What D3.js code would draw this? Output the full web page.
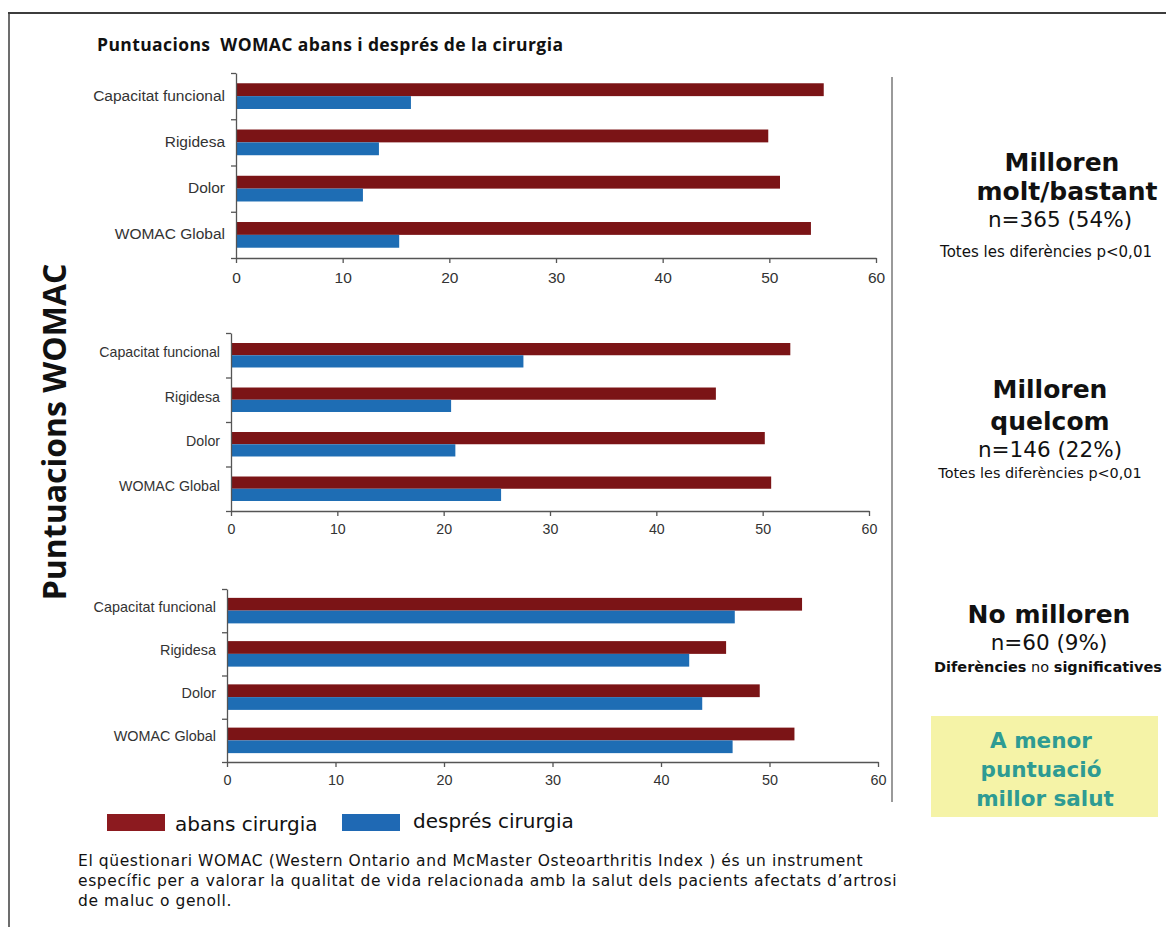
<!DOCTYPE html>
<html><head><meta charset="utf-8">
<script src="https://cdn.jsdelivr.net/npm/d3@7"></script>
<style>body{margin:0;background:#fff;} svg{display:block;} text{white-space:pre;}</style>
</head><body>
<svg id="c" width="1166" height="927"></svg>
<script>
const categories = ["Capacitat funcional", "Rigidesa", "Dolor", "WOMAC Global"];
const seriesNames = ["abans cirurgia", "després cirurgia"];
const abans1 = [55.1, 49.9, 51.0, 53.9];
const despres1 = [16.4, 13.4, 11.9, 15.3];
const abans2 = [52.6, 45.6, 50.2, 50.8];
const despres2 = [27.5, 20.7, 21.1, 25.4];
const abans3 = [53.0, 46.0, 49.1, 52.3];
const despres3 = [46.8, 42.6, 43.8, 46.6];
const xTicks = [0, 10, 20, 30, 40, 50, 60];
const title = "Puntuacions  WOMAC abans i després de la cirurgia";
const yTitle = "Puntuacions WOMAC";
const groupTitles = [["Milloren", "molt/bastant"], ["Milloren", "quelcom"], ["No milloren"]];
const groupN = ["n=365 (54%)", "n=146 (22%)", "n=60 (9%)"];
const noteLines = [
  "El qüestionari WOMAC (Western Ontario and McMaster Osteoarthritis Index ) és un instrument",
  "específic per a valorar la qualitat de vida relacionada amb la salut dels pacients afectats d’artrosi",
  "de maluc o genoll."
];
const boxLines = ["A menor", "puntuació", "millor salut"];

const RED = "#7b1416", BLUE = "#1e6db4";
const svg = d3.select("#c");

// frame
svg.append("line").attr("x1", 8).attr("x2", 1166).attr("y1", 13).attr("y2", 13).attr("stroke", "#3c3c3c").attr("stroke-width", 2);
svg.append("line").attr("x1", 9).attr("x2", 9).attr("y1", 12).attr("y2", 927).attr("stroke", "#3c3c3c").attr("stroke-width", 1.5);

svg.append("text").attr("x", 97).attr("y", 51).text(title)
  .attr("font-family", "Open Sans").attr("font-weight", "bold").attr("font-size", 17.5)
  .attr("letter-spacing", 0.4).attr("fill", "#111");

svg.append("text").attr("transform", "translate(66,432) rotate(-90)").attr("text-anchor", "middle")
  .text(yTitle).attr("font-family", "Open Sans").attr("font-weight", "bold").attr("font-size", 32).attr("fill", "#111");

const panels = [
  {a: abans1, d: despres1, x0: 236, x1: 876, y0: 73, y1: 258, pair: 0.556, fs: 15.5, pad: 9, lblDy: -1},
  {a: abans2, d: despres2, x0: 231, x1: 869, y0: 333, y1: 511, pair: 0.55, fs: 14.2, pad: 8, lblDy: -3},
  {a: abans3, d: despres3, x0: 227, x1: 878, y0: 589, y1: 762, pair: 0.59, fs: 14.4, pad: 8, lblDy: -4}
];

panels.forEach(p => {
  const x = d3.scaleLinear().domain([0, 60]).range([p.x0, p.x1]);
  const yb = d3.scaleBand().domain(categories).range([p.y0, p.y1]);
  const yl = d3.scaleLinear().domain([0, categories.length]).range([p.y0, p.y1]);
  const g = svg.append("g");
  const bw = yb.bandwidth();
  const h = bw * p.pair / 2;
  categories.forEach((c, i) => {
    const cy = yb(c) + bw / 2;
    g.append("rect").attr("x", x(0)).attr("y", cy - h).attr("width", x(p.a[i]) - x(0)).attr("height", h).attr("fill", RED);
    g.append("rect").attr("x", x(0)).attr("y", cy).attr("width", x(p.d[i]) - x(0)).attr("height", h).attr("fill", BLUE);
    g.append("text").attr("x", p.x0 - 11).attr("y", cy + p.lblDy).attr("dy", "0.35em").attr("text-anchor", "end")
      .text(c).attr("font-family", "Liberation Sans, Arial").attr("font-size", p.fs).attr("fill", "#333");
  });
  const ax = g.append("g").attr("transform", `translate(0,${p.y1})`)
    .call(d3.axisBottom(x).tickValues(xTicks).tickSize(5).tickSizeOuter(0).tickPadding(p.pad));
  ax.selectAll("text").attr("font-family", "Liberation Sans, Arial").attr("font-size", p.fs).attr("fill", "#333");
  ax.selectAll("line,path").attr("stroke", "#555").attr("stroke-width", 1.3);
  const ay = g.append("g").attr("transform", `translate(${p.x0},0)`)
    .call(d3.axisLeft(yl).tickValues(d3.range(categories.length + 1)).tickFormat("").tickSize(5).tickSizeOuter(0));
  ay.selectAll("line,path").attr("stroke", "#555").attr("stroke-width", 1.3);
});

// divider
svg.append("line").attr("x1", 892).attr("x2", 892).attr("y1", 77).attr("y2", 802).attr("stroke", "#9a9a9a").attr("stroke-width", 2);

const FF = "DejaVu Sans";
function txt(x, y, s, size, weight, fill) {
  return svg.append("text").attr("x", x).attr("y", y).attr("text-anchor", "middle").text(s)
    .attr("font-family", FF).attr("font-size", size).attr("font-weight", weight || "normal").attr("fill", fill || "#111");
}
// group 1
txt(1062, 171, groupTitles[0][0], 25, "bold");
txt(1067, 200, groupTitles[0][1], 25, "bold");
txt(1060, 227, groupN[0], 21.5);
txt(1046, 257, "Totes les diferències p<0,01", 15);
// group 2
txt(1050, 398, groupTitles[1][0], 25, "bold");
txt(1050, 430, groupTitles[1][1], 25, "bold");
txt(1050, 457, groupN[1], 21.5);
txt(1040, 478, "Totes les diferències p<0,01", 14.4);
// group 3
txt(1049, 623, groupTitles[2][0], 25, "bold");
txt(1049, 650, groupN[2], 21.5);
const t3 = svg.append("text").attr("x", 1048).attr("y", 672).attr("text-anchor", "middle")
  .attr("font-family", FF).attr("font-size", 14.5).attr("fill", "#111");
t3.append("tspan").attr("font-weight", "bold").text("Diferències");
t3.append("tspan").text(" no ");
t3.append("tspan").attr("font-weight", "bold").text("significatives");

// yellow box
svg.append("rect").attr("x", 931).attr("y", 716).attr("width", 227).attr("height", 101).attr("fill", "#f5f3a7");
[748, 777, 806].forEach((yy, i) => txt(i === 2 ? 1045 : 1041, yy, boxLines[i], 21.5, "bold", "#2e9b93"));

// legend
svg.append("rect").attr("x", 107).attr("y", 814).attr("width", 58).attr("height", 17).attr("fill", "#8c1a1f");
svg.append("text").attr("x", 175).attr("y", 831).text(seriesNames[0]).attr("font-family", FF).attr("font-size", 20).attr("fill", "#111");
svg.append("rect").attr("x", 342).attr("y", 814).attr("width", 58).attr("height", 17).attr("fill", "#1f69b4");
svg.append("text").attr("x", 413).attr("y", 828).text(seriesNames[1]).attr("font-family", FF).attr("font-size", 20).attr("fill", "#111");

// note
noteLines.forEach((l, i) => svg.append("text").attr("x", 78).attr("y", 866 + i * 20).text(l)
  .attr("font-family", FF).attr("font-size", 15.5).attr("letter-spacing", 0.6).attr("fill", "#111"));
</script>
</body></html>
